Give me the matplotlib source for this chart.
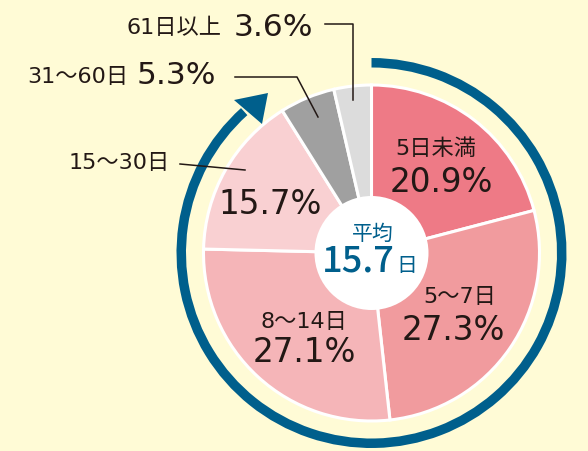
import numpy as np
import matplotlib.pyplot as plt
from matplotlib.patches import Wedge, Circle, Polygon

plt.rcParams['font.family'] = ['DejaVu Sans', 'Noto Sans CJK JP']

# data (clockwise from top)
labels = ["5日未満", "5～7日", "8～14日", "15～30日", "31～60日", "61日以上"]
values = [20.9, 27.3, 27.1, 15.7, 5.3, 3.6]
colors = ["#EE7A86", "#F19B9E", "#F5B5B8", "#F9D0D2", "#A0A0A0", "#DCDCDC"]
avg_label = "平均"
avg_value = "15.7"

W, H = 588, 451
bg = "#FFFBD6"
blue = "#005F8C"
ink = "#231815"
cjk = ['Noto Sans CJK JP', 'DejaVu Sans']

fig = plt.figure(figsize=(W / 100, H / 100), dpi=100, facecolor=bg)
ax = fig.add_axes([0, 0, 1, 1])


def Y(y):
    # pixel row -> data y
    return H - y


cx, cy = 371.5, Y(253)
R = 168

ax.pie(values, colors=colors, startangle=90, counterclock=False,
       radius=R, center=(cx, cy), frame=True,
       wedgeprops=dict(edgecolor="white", linewidth=2.2))
ax.set_xlim(0, W)
ax.set_ylim(0, H)
ax.set_aspect("equal")
ax.axis("off")

ax.add_patch(Circle((cx, cy), 57, facecolor="white", edgecolor="none", zorder=3))

# blue ring with arrow
ax.add_patch(Wedge((cx, cy), 195, -228, 90, width=9.5, facecolor=blue,
                   edgecolor="none", zorder=2))
ax.add_patch(Polygon([(268, Y(93)), (234, Y(100)), (262, Y(124))], closed=True,
                     facecolor=blue, edgecolor="none", zorder=2))

# inner labels
inner = [(436, 149, 441, 183), (460, 297, 453, 331),
         (304, 322, 304, 352), (None, None, 270, 204)]
for i, (lx, ly, px, py) in enumerate(inner):
    if lx is not None:
        ax.text(lx, Y(ly), labels[i], ha="center", va="center", fontsize=16,
                color=ink, zorder=4)
    ax.text(px, Y(py), f"{values[i]}%", ha="center", va="center", fontsize=23.5,
            color=ink, zorder=4)

# outer labels
ax.text(222, Y(28), labels[5], ha="right", va="center", fontsize=16, color=ink)
ax.text(234, Y(28), f"{values[5]}%", ha="left", va="center", fontsize=22.5, color=ink)
ax.text(128, Y(77), labels[4], ha="right", va="center", fontsize=16, color=ink)
ax.text(137, Y(76), f"{values[4]}%", ha="left", va="center", fontsize=22.5, color=ink)
ax.text(170, Y(163), labels[3], ha="right", va="center", fontsize=16, color=ink)

lw = 1.1
ax.plot([325, 353, 353], [Y(24), Y(24), Y(100)], color=ink, lw=lw, zorder=4)
ax.plot([235, 297, 318], [Y(77), Y(77), Y(117)], color=ink, lw=lw, zorder=4)
ax.plot([180, 245], [Y(164), Y(170)], color=ink, lw=lw, zorder=4)

# center
ax.text(373, Y(234), avg_label, ha="center", va="center", fontsize=15,
        color=blue, zorder=4, family=cjk)
ax.text(395, Y(261), avg_value, ha="right", va="center", fontsize=26,
        color=blue, zorder=4, family=cjk, fontweight="medium")
ax.text(396, Y(266), "日", ha="left", va="center", fontsize=15,
        color=blue, zorder=4, family=cjk)

fig.savefig("out.png", dpi=100, facecolor=bg)
